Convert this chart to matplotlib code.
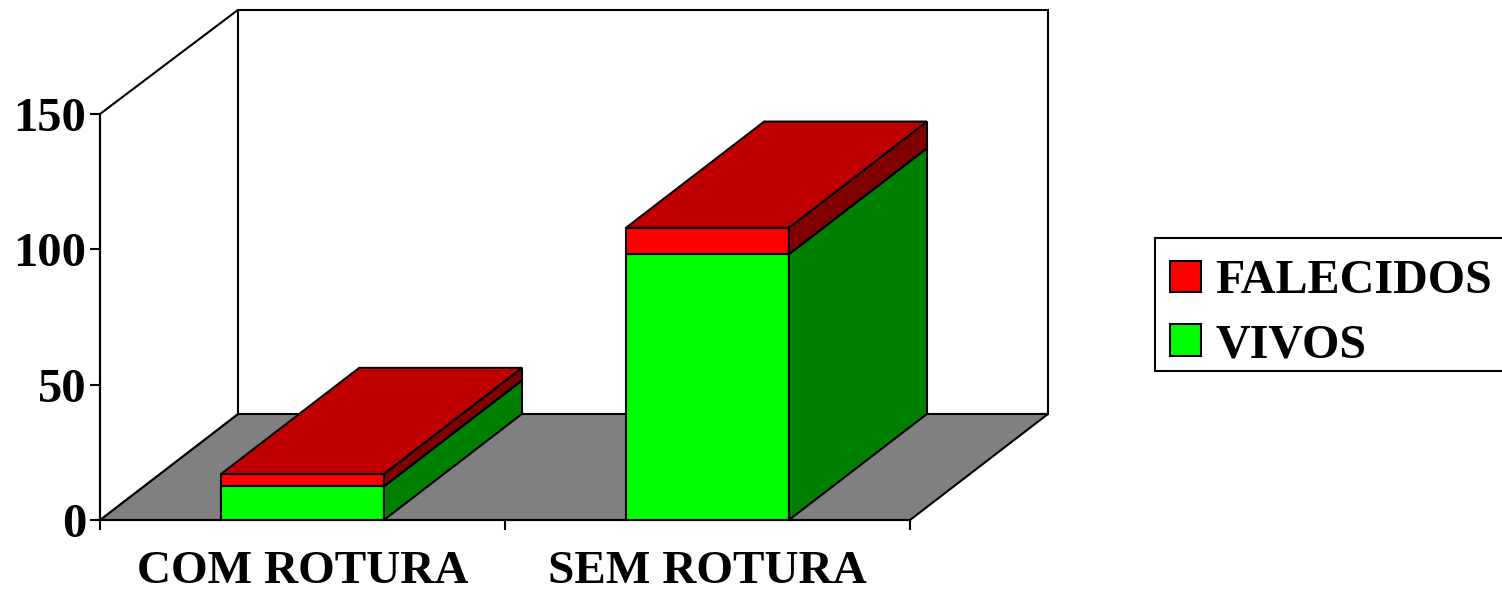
import matplotlib.pyplot as plt
from matplotlib.patches import Patch, Rectangle

W, H = 1502, 590
FONT = "Liberation Serif"

categories = ["COM ROTURA", "SEM ROTURA"]
vivos = [12.4, 98.2]
falecidos = [4.6, 9.8]
y_ticks = [0, 50, 100, 150]

BAR_WIDTH = 0.402
DEPTH_X = 0.341  # fake 3d offset, x axis units
DEPTH_Y = 39.2  # same, y axis units
WALL_TOP = 149.3
LW = 1.5

plt.rcParams["font.family"] = FONT
plt.rcParams["font.weight"] = "bold"
plt.rcParams["font.size"] = 34

fig = plt.figure(figsize=(W / 100, H / 100), dpi=100)
ax = fig.add_axes([100 / W, 1 - 520 / H, 810 / W, 406 / H])
ax.set_xlim(0, 2)
ax.set_ylim(0, 150)
ax.patch.set_visible(False)
for side in ["top", "right"]:
    ax.spines[side].set_visible(False)
for side in ["left", "bottom"]:
    ax.spines[side].set_linewidth(LW)
    ax.spines[side].set_zorder(6)


def poly(xs, ys, color, z):
    ax.fill(xs, ys, facecolor=color, edgecolor="black", lw=LW, clip_on=False,
            joinstyle="miter", zorder=z)


# floor and walls
poly([0, 2, 2 + DEPTH_X, DEPTH_X], [0, 0, DEPTH_Y, DEPTH_Y], "#808080", 1)
poly([0, DEPTH_X, DEPTH_X, 0], [0, DEPTH_Y, DEPTH_Y + WALL_TOP, 150], "white", 1)
poly([DEPTH_X, 2 + DEPTH_X, 2 + DEPTH_X, DEPTH_X],
     [DEPTH_Y, DEPTH_Y, DEPTH_Y + WALL_TOP, DEPTH_Y + WALL_TOP], "white", 1)


def box(x, bottom, top, front, side):
    x0, x1 = x - BAR_WIDTH / 2, x + BAR_WIDTH / 2
    poly([x0, x1, x1, x0], [bottom, bottom, top, top], front, 3)
    poly([x1, x1 + DEPTH_X, x1 + DEPTH_X, x1],
         [bottom, bottom + DEPTH_Y, top + DEPTH_Y, top], side, 3)


for i in range(len(categories)):
    x = i + 0.5
    total = vivos[i] + falecidos[i]
    box(x, 0, vivos[i], "#00ff00", "#008000")
    box(x, vivos[i], total, "#ff0000", "#800000")
    x0, x1 = x - BAR_WIDTH / 2, x + BAR_WIDTH / 2
    poly([x0, x1, x1 + DEPTH_X, x0 + DEPTH_X],
         [total, total, total + DEPTH_Y, total + DEPTH_Y], "#c00000", 4)

ax.set_yticks(y_ticks)
ax.set_xticks([0, 1, 2])
ax.set_xticklabels([])
ax.set_xticks([0.5, 1.5], categories, minor=True)
ax.tick_params(axis="both", which="major", length=7, width=LW)
ax.tick_params(axis="y", labelsize=35, pad=3)
ax.tick_params(axis="x", which="minor", length=0, labelsize=34, pad=22)

# legend frame drawn apart, its text sits lower than a normal legend box allows
fig.add_artist(Rectangle((1155 / W, 1 - 371 / H), 352 / W, 133 / H, transform=fig.transFigure,
                         facecolor="white", edgecolor="black", lw=LW, zorder=1))
handles = [Patch(facecolor="#ff0000", edgecolor="black", lw=LW, label="FALECIDOS"),
           Patch(facecolor="#00ff00", edgecolor="black", lw=LW, label="VIVOS")]
leg = fig.legend(handles=handles, loc="upper left",
                 bbox_to_anchor=(1155 / W, 1 - 244 / H), bbox_transform=fig.transFigure,
                 fontsize=34.6, frameon=False,
                 borderaxespad=0, borderpad=0.32, handlelength=0.64, handleheight=0.64,
                 handletextpad=0.3, labelspacing=0.41)
leg.set_zorder(2)

fig.savefig("out.png", dpi=100)
